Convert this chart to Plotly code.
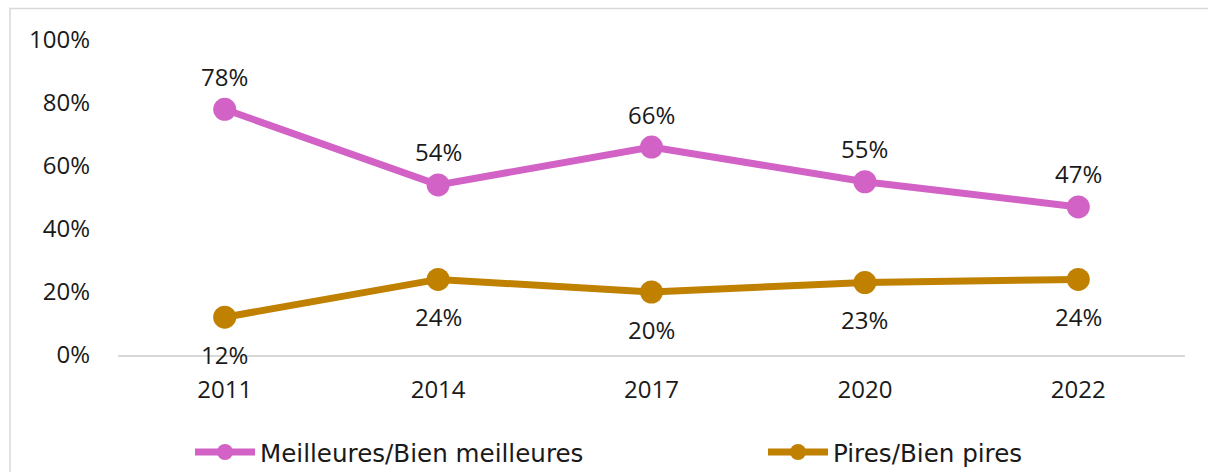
import plotly.graph_objects as go

years = ["2011", "2014", "2017", "2020", "2022"]
meilleures = [78, 54, 66, 55, 47]
pires = [12, 24, 20, 23, 24]
y_ticks = [0, 20, 40, 60, 80, 100]
y_tick_labels = ["0%", "20%", "40%", "60%", "80%", "100%"]

PINK = "#D262C6"
GOLD = "#C08000"
NUMFONT = "Open Sans"
LEGFONT = "DejaVu Sans"
TXT = "#1a1a1a"
FS = 24

fig = go.Figure()
fig.add_trace(go.Scatter(
    x=years, y=meilleures, name="Meilleures/Bien meilleures",
    mode="lines+markers",
    line=dict(color=PINK, width=7),
    marker=dict(color=PINK, size=23),
    cliponaxis=False, legend="legend",
))
fig.add_trace(go.Scatter(
    x=years, y=pires, name="Pires/Bien pires",
    mode="lines+markers",
    line=dict(color=GOLD, width=7),
    marker=dict(color=GOLD, size=23),
    cliponaxis=False, legend="legend2",
))

# data labels placed through the axes (category index positions)
for i, yv in enumerate(meilleures):
    fig.add_annotation(x=i, y=yv, xref="x", yref="y", text=f"{yv}%", showarrow=False,
                       yshift=33, yanchor="middle",
                       font=dict(size=FS, family=NUMFONT, color=TXT))
for i, yv in enumerate(pires):
    fig.add_annotation(x=i, y=yv, xref="x", yref="y", text=f"{yv}%", showarrow=False,
                       yshift=-37, yanchor="middle",
                       font=dict(size=FS, family=NUMFONT, color=TXT))

W, H = 1208, 472
L, R, T, B = 118, 23, 40, 117
pw, ph = W - L - R, H - T - B

def px_x(p):
    return (p - L) / pw

def px_y(p):
    return (H - B - p) / ph

fig.add_shape(type="rect", xref="paper", yref="paper",
              x0=px_x(10), x1=px_x(1215), y0=px_y(480), y1=px_y(8.5),
              line=dict(color="#d9d9d9", width=1.5), fillcolor="rgba(0,0,0,0)",
              layer="below")

leg_common = dict(orientation="h", xanchor="left", yanchor="middle",
                  font=dict(size=24.6, family=LEGFONT, color=TXT),
                  itemwidth=60, bgcolor="rgba(0,0,0,0)")

fig.update_layout(
    width=W, height=H,
    margin=dict(l=L, r=R, t=T, b=B, autoexpand=False),
    paper_bgcolor="white", plot_bgcolor="white",
    font=dict(family=NUMFONT, size=FS, color=TXT),
    showlegend=True,
    legend=dict(x=px_x(190), y=px_y(452), **leg_common),
    legend2=dict(x=px_x(763), y=px_y(452), **leg_common),
    xaxis=dict(type="category", range=[-0.5, 4.5], showgrid=False, zeroline=False,
               showline=True, linecolor="#d9d9d9", linewidth=1.5,
               ticks="", ticklabelstandoff=12,
               tickfont=dict(size=FS, family=NUMFONT, color=TXT)),
    yaxis=dict(range=[0, 100], tickvals=y_ticks, ticktext=y_tick_labels,
               showgrid=False, zeroline=False, showline=False, ticks="",
               ticklabelstandoff=27,
               tickfont=dict(size=FS, family=NUMFONT, color=TXT)),
)

fig.write_html("out.html", config={"displayModeBar": False},
               post_script="document.body.style.margin='0';document.body.style.padding='0';")
